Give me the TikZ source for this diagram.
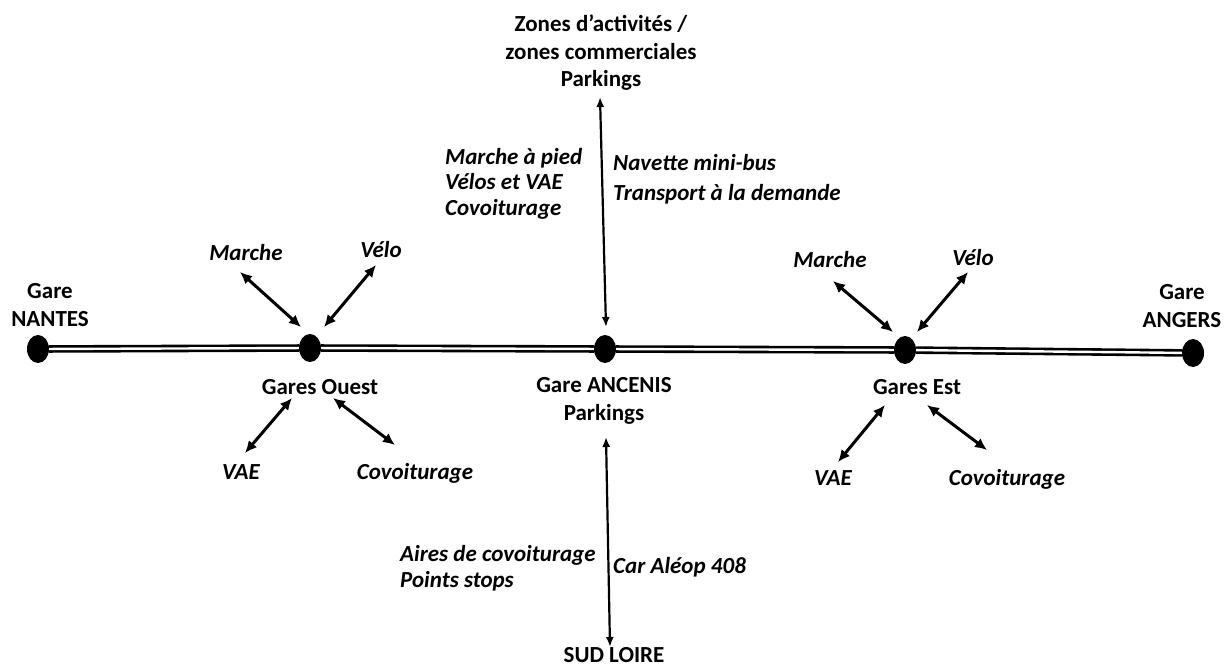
\documentclass[tikz,border=0pt]{standalone}
\usepackage{fontspec}
\setmainfont{Carlito}
\usetikzlibrary{arrows.meta,shapes.geometric}
\begin{document}
\begin{tikzpicture}[x=1pt,y=-1pt,
  dot/.style={ellipse,fill=black,minimum width=22pt,minimum height=28pt,inner sep=0pt},
  rail/.style={double=white,line width=2.6pt,double distance=2.4pt},
  lab/.style={font=\fontsize{23}{27.5}\selectfont\bfseries,inner sep=0pt,anchor=base,align=center},
  mode/.style={font=\fontsize{23}{27.5}\selectfont\bfseries\itshape,inner sep=0pt,anchor=base},
  darr/.style={line width=3pt,{Latex[length=12pt,width=11pt]}-{Latex[length=12pt,width=11pt]}},
  varr/.style={line width=2.2pt,{Latex[length=10pt,width=8pt]}-{Latex[length=10pt,width=8pt]}}]
\useasboundingbox (0,0) rectangle (1230,666);
% stations
\node[dot] (nantes) at (38,349) {};
\node[dot] (ouest) at (310,348) {};
\node[dot] (anc) at (605,349) {};
\node[dot] (est) at (905,350) {};
\node[dot] (angers) at (1193,353) {};
\draw[rail] (nantes) -- (ouest) -- (anc) -- (est) -- (angers);
% station labels (base = last line baseline)
\node[lab] (gn) at (50,326) {Gare\\NANTES};
\node[lab] (ga) at (1182,327) {Gare\\ANGERS};
\node[lab] (ol) at (320,394) {Gares Ouest};
\node[lab] (el) at (917,394) {Gares Est};
\node[lab,font=\fontsize{23}{28}\selectfont\bfseries] (al) at (604,420) {Gare ANCENIS\\Parkings};
\node[lab] (top) at (601,87) {Zones d’activités /\\zones commerciales\\Parkings};
\node[lab] (sud) at (614,662) {SUD LOIRE};
% Ouest modes
\node[mode] (om) at (246,260) {Marche};
\node[mode] (ov) at (381,257) {Vélo};
\node[mode] (oa) at (241,479) {VAE};
\node[mode] (oc) at (415,479) {Covoiturage};
% Est modes
\node[mode] (em) at (830,267) {Marche};
\node[mode] (ev) at (973,265) {Vélo};
\node[mode] (ea) at (833,485) {VAE};
\node[mode] (ec) at (1007,485) {Covoiturage};
% centre texts
\node[mode,anchor=base west,align=left,font=\fontsize{23}{25.5}\selectfont\bfseries\itshape] (ml) at (445,215) {Marche à pied\\Vélos et VAE\\Covoiturage};
\node[mode,anchor=base west,align=left,font=\fontsize{23}{30}\selectfont\bfseries\itshape] (mr) at (613,200) {Navette mini-bus\\Transport à la demande};
\node[mode,anchor=base west,align=left,font=\fontsize{23}{26}\selectfont\bfseries\itshape] (bl) at (400,587) {Aires de covoiturage\\Points stops};
\node[mode,anchor=base west] (br) at (613,573) {Car Aléop 408};
% arrow end points
\coordinate (omA) at (240,272); \coordinate (omB) at (301,327);
\coordinate (ovA) at (376,265); \coordinate (ovB) at (324,327);
\coordinate (oaA) at (292,398); \coordinate (oaB) at (245,453);
\coordinate (ocA) at (333,398); \coordinate (ocB) at (395,445);
\coordinate (emA) at (833,281); \coordinate (emB) at (893,332);
\coordinate (evA) at (968,272); \coordinate (evB) at (917,332);
\coordinate (eaA) at (885,405); \coordinate (eaB) at (838,462);
\coordinate (ecA) at (927,405); \coordinate (ecB) at (987,450);
\coordinate (upA) at (600,97); \coordinate (upB) at (606,327);
\coordinate (dnA) at (606,437); \coordinate (dnB) at (610,647);
\draw[darr] (omA) -- (omB);
\draw[darr] (ovA) -- (ovB);
\draw[darr] (oaA) -- (oaB);
\draw[darr] (ocA) -- (ocB);
\draw[darr] (emA) -- (emB);
\draw[darr] (evA) -- (evB);
\draw[darr] (eaA) -- (eaB);
\draw[darr] (ecA) -- (ecB);
\draw[varr] (upA) -- (upB);
\draw[varr] (dnA) -- (dnB);
\end{tikzpicture}
\end{document}
